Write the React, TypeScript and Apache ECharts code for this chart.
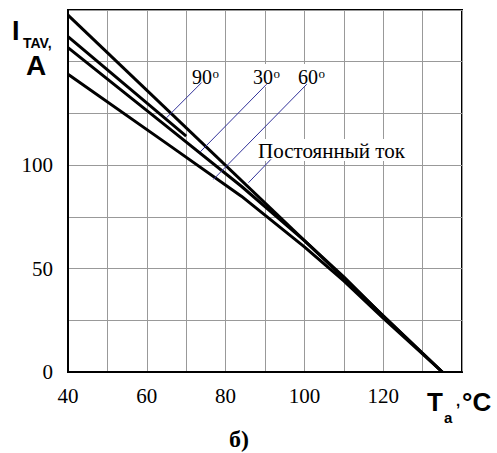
import React, { useEffect, useRef } from "react";
import * as echarts from "echarts";

// Temperature axis (x) and current axis (y)
const xTickLabels = [40, 60, 80, 100, 120];
const yTickLabels = [0, 50, 100];

// Curves: [Ta, I_TAV]
const curveA = [[40, 172.5], [135, 0]];
const curveB = [[40, 162.1], [70, 114]];
const curveC = [[40, 156.8], [66, 117.3], [84, 89.8], [100, 63.5], [110, 46], [120, 27], [135, 0]];
const curveD = [[40, 143.9], [66, 109.2], [84, 85], [100, 60.5], [110, 44], [120, 26], [135, 0]];

// Leader lines from labels to curves (data coordinates)
const leader90 = [[73.9, 139.9], [65.0, 122.9]];
const leader30 = [[90.4, 139.1], [73.5, 106.3]];
const leader60 = [[100.6, 139.1], [76.9, 93.1]];
const leaderDC = [[91.5, 102.8], [85.8, 91.5]];

const labelDC = "Постоянный ток";

const SERIF = "'Liberation Serif', 'Times New Roman', serif";
const SANS = "'Liberation Sans', Arial, sans-serif";

function txt(text: string, x: number, y: number, size: number, family: string, bold = false) {
  const font = `${bold ? "bold " : ""}${size}px ${family}`;
  return {
    type: "text",
    silent: true,
    z: 120,
    style: {
      text,
      x,
      y,
      fill: "#000",
      font,
      align: "left",
      verticalAlign: "middle",
      textAlign: "left",
      textVerticalAlign: "middle",
    },
  };
}

function box(x: number, y: number, w: number, h: number) {
  return { type: "rect", silent: true, z: 110, shape: { x, y, width: w, height: h }, style: { fill: "#fff" } };
}

export default function App() {
  const ref = useRef<HTMLDivElement>(null);
  useEffect(() => {
    if (!ref.current) return;
    const chart = echarts.init(ref.current, null, { renderer: "svg" });
    const lineSeries = (data: number[][]) => ({
      type: "line",
      data,
      symbol: "none",
      showSymbol: false,
      silent: true,
      z: 3,
      lineStyle: { color: "#000", width: 3 },
    });
    chart.setOption({
      animation: false,
      grid: {
        left: 68,
        top: 10,
        width: 394,
        height: 362,
        show: true,
        borderColor: "#000",
        borderWidth: 2,
        backgroundColor: "transparent",
      },
      xAxis: {
        type: "value",
        min: 40,
        max: 140,
        interval: 10,
        axisLine: { show: true, lineStyle: { color: "#000", width: 2 } },
        axisTick: { show: false },
        splitLine: { show: true, lineStyle: { color: "#999", width: 1 } },
        axisLabel: {
          showMaxLabel: false,
          margin: 13,
          color: "#000",
          fontFamily: SERIF,
          fontSize: 21,
          formatter: (v: number) => (xTickLabels.includes(v) ? String(v) : ""),
        },
      },
      yAxis: {
        type: "value",
        min: 0,
        max: 175,
        interval: 25,
        axisLine: { show: true, lineStyle: { color: "#000", width: 2 } },
        axisTick: { show: false },
        splitLine: { show: true, lineStyle: { color: "#999", width: 1 } },
        axisLabel: {
          margin: 15,
          color: "#000",
          fontFamily: SERIF,
          fontSize: 21,
          formatter: (v: number) => (yTickLabels.includes(v) ? String(v) : ""),
        },
      },
      series: [
        lineSeries(curveA),
        lineSeries(curveB),
        lineSeries(curveC),
        lineSeries(curveD),
        {
          type: "lines",
          coordinateSystem: "cartesian2d",
          silent: true,
          z: 130,
          lineStyle: { color: "#33339a", width: 1, opacity: 1 },
          data: [leader90, leader30, leader60, leaderDC].map((c) => ({ coords: c })),
        },
      ],
      graphic: [
        box(190, 64, 32, 23),
        box(251, 64, 32, 23),
        box(296, 64, 32, 23),
        box(256, 139, 166, 22),
        txt("90", 192, 77, 20, SERIF),
        txt("o", 212.5, 73, 13, SERIF),
        txt("30", 253, 77, 20, SERIF),
        txt("o", 273.5, 73, 13, SERIF),
        txt("60", 298, 77, 20, SERIF),
        txt("o", 318.5, 73, 13, SERIF),
        txt(labelDC, 258, 150.5, 21, SERIF),
        txt("I", 12, 30.5, 27, SANS, true),
        txt("TAV,", 23, 43, 14, SANS, true),
        txt("A", 26, 65, 28, SANS, true),
        txt("T", 427, 402, 26, SANS, true),
        txt("a", 444, 417, 15, SANS, true),
        txt(",", 456, 400, 15, SANS, true),
        txt("°C", 462, 402, 26, SANS, true),
        txt("б)", 229, 439, 24, SERIF, true),
      ],
    });
    return () => chart.dispose();
  }, []);
  return <div ref={ref} style={{ position: "absolute", left: 0, top: 0, width: 497, height: 453 }} />;
}
